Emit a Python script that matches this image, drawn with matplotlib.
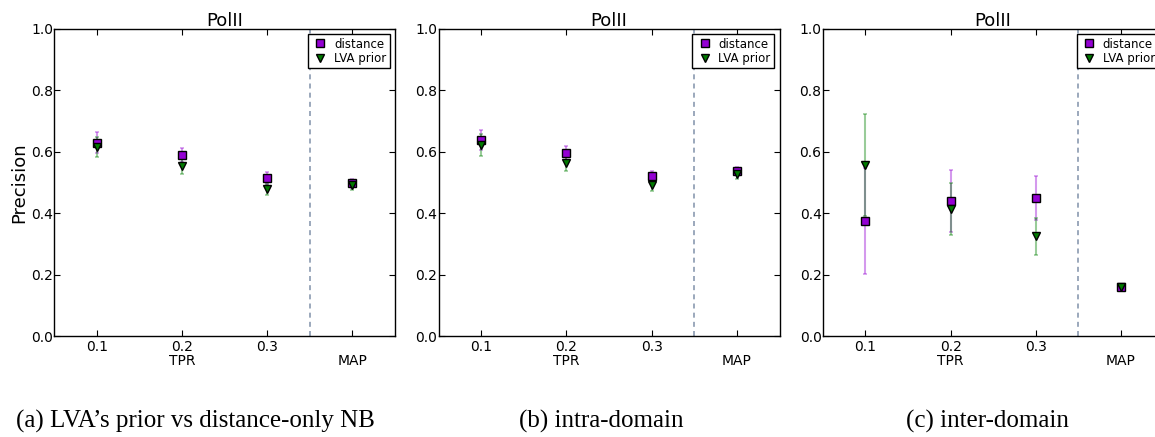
import numpy as np
import matplotlib.pyplot as plt

# x positions: three TPR levels plus the MAP column
x_pos = [0.1, 0.2, 0.3, 0.4]
tick_labels = ['0.1', '0.2\nTPR', '0.3', '\nMAP']

titles = ['PolII', 'PolII', 'PolII']
captions = ["(a) LVA\u2019s prior vs distance-only NB", "(b) intra-domain", "(c) inter-domain"]

# (a) LVA's prior vs distance-only NB
dist_a = [0.629, 0.589, 0.515, 0.497]
dist_a_err = [0.034, 0.024, 0.020, 0.014]
lva_a = [0.615, 0.553, 0.477, 0.490]
lva_a_err = [0.034, 0.026, 0.018, 0.016]

# (b) intra-domain
dist_b = [0.638, 0.596, 0.521, 0.537]
dist_b_err = [0.032, 0.023, 0.017, 0.014]
lva_b = [0.622, 0.562, 0.490, 0.527]
lva_b_err = [0.036, 0.025, 0.018, 0.016]

# (c) inter-domain
dist_c = [0.374, 0.439, 0.449, 0.160]
dist_c_err = [0.172, 0.100, 0.072, 0.006]
lva_c = [0.556, 0.413, 0.324, 0.158]
lva_c_err = [0.165, 0.084, 0.060, 0.006]

panels = [
    (dist_a, dist_a_err, lva_a, lva_a_err),
    (dist_b, dist_b_err, lva_b, lva_b_err),
    (dist_c, dist_c_err, lva_c, lva_c_err),
]

purple = '#9400d3'
green = '#007a00'

fig = plt.figure(figsize=(11.55, 4.37), dpi=100)
lefts = [0.0468, 0.3797, 0.7123]

for i, (d, de, l, le) in enumerate(panels):
    ax = fig.add_axes([lefts[i], 0.2311, 0.2952, 0.7032])
    ax.errorbar(x_pos, d, yerr=de, fmt='none', ecolor=purple, alpha=0.4,
                elinewidth=1.5, capsize=1.5, capthick=1.2, zorder=1)
    ax.errorbar(x_pos, l, yerr=le, fmt='none', ecolor='#008000', alpha=0.4,
                elinewidth=1.5, capsize=1.5, capthick=1.2, zorder=1)
    ax.plot(x_pos, d, 's', color=purple, markeredgecolor='black', markersize=5.5,
            markeredgewidth=1, label='distance', zorder=3)
    ax.plot(x_pos, l, 'v', color=green, markeredgecolor='black', markersize=5.5,
            markeredgewidth=1, label='LVA prior', zorder=3)
    ax.axvline(0.35, color='#8a9ab0', linestyle=(0, (3, 2.5)), linewidth=1.2, zorder=0)

    ax.set_xlim(0.05, 0.45)
    ax.set_ylim(0.0, 1.0)
    ax.set_xticks(x_pos)
    ax.set_xticklabels(tick_labels, fontsize=10, linespacing=1.0)
    ax.set_yticks(np.arange(0, 1.01, 0.2))
    ax.set_yticklabels(['%.1f' % v for v in np.arange(0, 1.01, 0.2)], fontsize=10)
    ax.tick_params(axis='both', direction='in', top=True, right=True, length=4, width=0.8)
    ax.tick_params(axis='x', pad=3)
    ax.tick_params(axis='y', pad=0.8)
    for s in ax.spines.values():
        s.set_linewidth(1.0)
    ax.set_title(titles[i], fontsize=13, pad=2)
    if i == 0:
        ax.set_ylabel('Precision', fontsize=13, labelpad=2)
    ax.legend(loc='upper right', numpoints=1, fontsize=8.5, fancybox=False,
              edgecolor='black', framealpha=1, borderaxespad=0.45, borderpad=0.3,
              labelspacing=0.1, handlelength=1.5, handletextpad=0.4)

cap_x = [195 / 1155, 601 / 1155, 987 / 1155]
for cx, txt in zip(cap_x, captions):
    fig.text(cx, 0.0206, txt, ha='center', va='baseline', fontsize=18,
             family='Liberation Serif')

fig.savefig('out.png', dpi=100)
